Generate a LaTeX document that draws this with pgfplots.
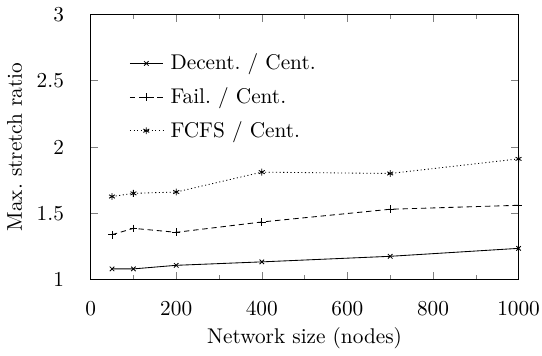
\documentclass[border=0pt]{standalone}
\usepackage{pgfplots}
\pgfplotsset{compat=1.18}
\begin{document}
\begin{tikzpicture}
\begin{axis}[
  scale only axis,
  width=201pt, height=124.5pt,
  xmin=0, xmax=1000, ymin=1, ymax=3,
  xtick={0,200,400,600,800,1000},
  minor xtick={100,300,500,700,900},
  ytick={1,1.5,2,2.5,3},
  yticklabels={1,1.5,2,2.5,3},
  xticklabels={0,200,400,600,800,1000},
  tick pos=both,
  tick align=inside,
  major tick length=3.5pt,
  minor tick length=2pt,
  xticklabel style={yshift=-6.5pt, inner xsep=1pt},
  yticklabel style={xshift=-9pt},
  xlabel={Network size (nodes)},
  ylabel={Max.\ stretch ratio},
  xlabel style={yshift=1.5pt},
  ylabel style={yshift=0pt},
  legend style={draw=none, fill=none, at={(0.075,0.885)}, anchor=north west, row sep=2.8pt, font=\normalsize,
    nodes={inner xsep=3.5pt}},
  legend image code/.code={\draw[mark repeat=2,mark phase=2] plot coordinates {(0cm,0cm) (0.27cm,0cm) (0.54cm,0cm)};},
  legend cell align=left,
  every axis plot/.append style={black, thin},
]
\addplot[mark=x, mark size=1.5pt] coordinates {(50,1.08) (100,1.08) (200,1.107) (400,1.133) (700,1.175) (1000,1.235)};
\addlegendentry{Decent.~/ Cent.}
\addplot[mark=+, mark size=1.8pt, dash pattern=on 2.5pt off 1.8pt, mark options={solid}] coordinates {(50,1.338) (100,1.386) (200,1.356) (400,1.434) (700,1.53) (1000,1.56)};
\addlegendentry{Fail.~/ Cent.}
\addplot[mark=asterisk, mark size=1.6pt, dash pattern=on 0.5pt off 1.2pt, mark options={solid}] coordinates {(50,1.626) (100,1.65) (200,1.66) (400,1.81) (700,1.80) (1000,1.91)};
\addlegendentry{FCFS / Cent.}
\end{axis}
\end{tikzpicture}
\end{document}
